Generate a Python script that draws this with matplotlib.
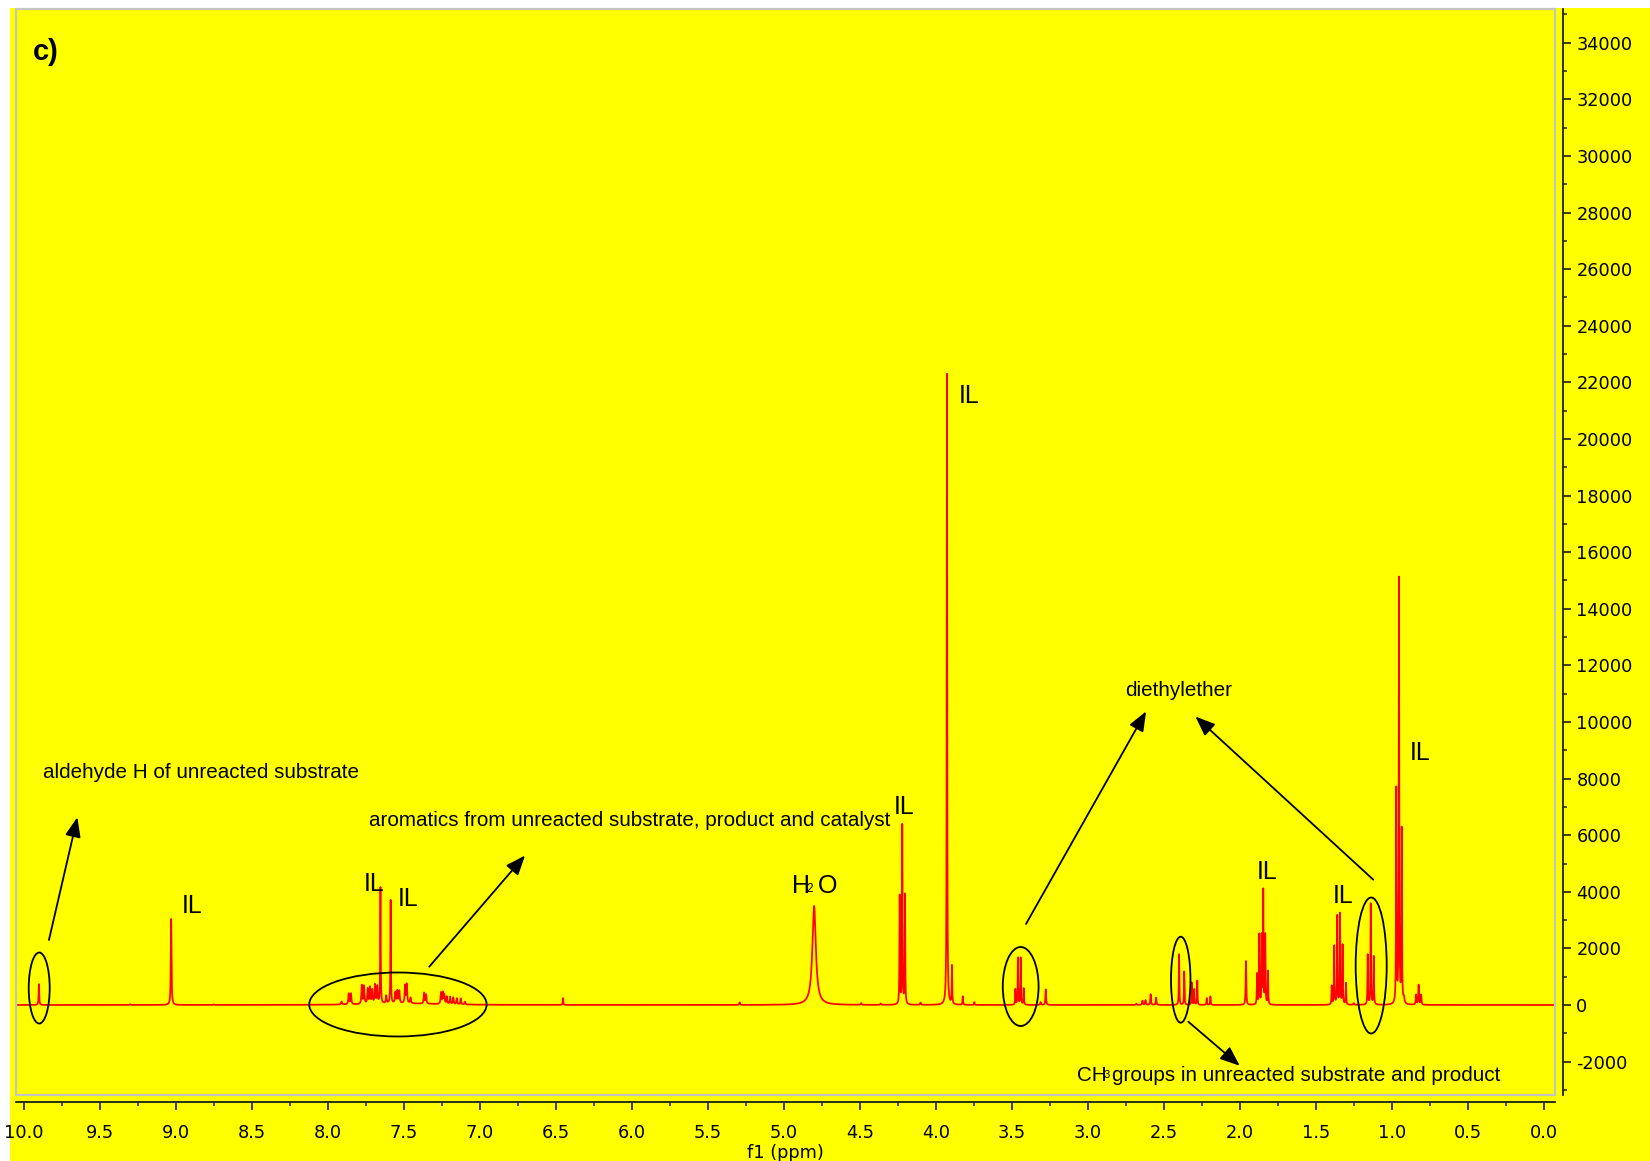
import numpy as np
import matplotlib
matplotlib.use("Agg")
import matplotlib.pyplot as plt
from matplotlib.patches import Rectangle, Ellipse
from matplotlib.ticker import MultipleLocator, FixedLocator, FuncFormatter

# ---------------- data ----------------
# peak positions (ppm), heights (intensity) and half widths (ppm)
peak_ppm = [
    9.900, 9.030, 9.300, 8.750,
    7.908, 7.862, 7.847, 7.776, 7.761, 7.737, 7.722, 7.707, 7.689, 7.674,
    7.653, 7.615, 7.586, 7.555, 7.542, 7.529, 7.491, 7.480, 7.455,
    7.366, 7.353, 7.255, 7.243, 7.233, 7.217, 7.195, 7.174, 7.151, 7.125, 7.097,
    7.500,
    6.452, 5.290,
    4.800, 4.490, 4.362,
    4.237, 4.220, 4.202, 4.100,
    3.926, 3.893, 3.822, 3.746,
    3.476, 3.459, 3.441, 3.421, 3.310, 3.276,
    2.680, 2.640, 2.620, 2.586, 2.550,
    2.399, 2.365, 2.316, 2.299, 2.279, 2.217, 2.193,
    1.959,
    1.886, 1.871, 1.855, 1.845, 1.832, 1.814,
    1.395, 1.378, 1.358, 1.340, 1.323, 1.301, 1.250,
    1.158, 1.138, 1.118,
    0.970, 0.952, 0.934, 0.920,
    0.840, 0.823, 0.807,
]
peak_height = [
    740, 3040, 30, 20,
    100, 380, 380, 660, 630, 530, 580, 480, 660, 600,
    4100, 270, 3650, 380, 430, 430, 620, 660, 200,
    380, 320, 400, 400, 320, 260, 260, 240, 210, 210, 100,
    55,
    240, 90,
    3500, 60, 50,
    3820, 6320, 3870, 80,
    22300, 1350, 300, 100,
    550, 1660, 1660, 580, 100, 550,
    50, 150, 170, 380, 260,
    1790, 1180, 790, 550, 860, 240, 300,
    1550,
    1080, 2470, 2390, 4000, 2450, 1180,
    660, 2070, 3130, 3200, 2100, 760, 60,
    1760, 3560, 1700,
    7560, 15000, 6120, 200,
    350, 700, 350,
]
peak_halfwidth = [
    0.0022, 0.0025, 0.003, 0.003,
    0.004, 0.003, 0.003, 0.003, 0.003, 0.003, 0.003, 0.003, 0.003, 0.003,
    0.0018, 0.003, 0.0018, 0.003, 0.003, 0.003, 0.003, 0.003, 0.003,
    0.003, 0.003, 0.003, 0.003, 0.003, 0.003, 0.003, 0.003, 0.003, 0.003, 0.003,
    0.25,
    0.002, 0.003,
    0.0135, 0.003, 0.003,
    0.0018, 0.0018, 0.0018, 0.003,
    0.0018, 0.0018, 0.002, 0.002,
    0.0018, 0.0018, 0.0018, 0.0018, 0.003, 0.0025,
    0.003, 0.003, 0.003, 0.0025, 0.0025,
    0.0018, 0.0018, 0.0018, 0.0018, 0.0018, 0.002, 0.002,
    0.0022,
    0.0018, 0.0018, 0.0016, 0.0016, 0.0018, 0.0018,
    0.0018, 0.0018, 0.0018, 0.0018, 0.0018, 0.0018, 0.003,
    0.0018, 0.0018, 0.0018,
    0.0018, 0.0018, 0.0018, 0.004,
    0.0025, 0.0025, 0.0025,
]

x_ticks = [10.0, 9.5, 9.0, 8.5, 8.0, 7.5, 7.0, 6.5, 6.0, 5.5, 5.0,
           4.5, 4.0, 3.5, 3.0, 2.5, 2.0, 1.5, 1.0, 0.5, 0.0]
y_ticks = [-2000, 0, 2000, 4000, 6000, 8000, 10000, 12000, 14000, 16000,
           18000, 20000, 22000, 24000, 26000, 28000, 30000, 32000, 34000]

# ---------------- spectrum line from the peak table ----------------
XMIN, XMAX = -0.0743, 10.0507
grid = np.linspace(XMAX, XMIN, 60000)
ppm = np.sort(np.concatenate([grid, np.array(peak_ppm)]))[::-1]
intensity = np.zeros_like(ppm)
for p, h, g in zip(peak_ppm, peak_height, peak_halfwidth):
    intensity += h * g * g / ((ppm - p) ** 2 + g * g)

# ---------------- figure ----------------
W, H = 1650, 1161
fig = plt.figure(figsize=(W / 100, H / 100), dpi=100)
fig.patch.set_facecolor("white")
fig.add_artist(Rectangle((10 / W, 0), 1, (H - 8) / H, transform=fig.transFigure,
                         facecolor="#FFFF00", edgecolor="none", zorder=-10))

ax = fig.add_axes([16 / W, (H - 1095) / H, (1555 - 16) / W, (1095 - 9) / H])
ax.set_facecolor("#FFFF00")
ax.plot(ppm, intensity, color="#FF0000", lw=1.25, zorder=3)

ax.set_xlim(XMAX, XMIN)
ax.set_ylim(-3180, 35194)

# gray frame around plot area
ax.add_patch(Rectangle((0, 0), 1, 1, transform=ax.transAxes, fill=False,
                       edgecolor="#C4C4C4", lw=1.6, clip_on=False, zorder=6))

for s in ("top", "left"):
    ax.spines[s].set_visible(False)
axis_col = "#1e1e1e"
ax.spines["bottom"].set_position(("outward", 5.0))
ax.spines["right"].set_position(("outward", 5.8))
for s in ("bottom", "right"):
    ax.spines[s].set_color(axis_col)
    ax.spines[s].set_linewidth(1.3)

ax.yaxis.tick_right()
ax.xaxis.set_major_locator(FixedLocator(x_ticks))
ax.xaxis.set_minor_locator(MultipleLocator(0.25))
ax.xaxis.set_major_formatter(FuncFormatter(lambda v, p: f"{v:.1f}"))
ax.yaxis.set_major_locator(FixedLocator(y_ticks))
ax.yaxis.set_minor_locator(MultipleLocator(1000))
ax.yaxis.set_major_formatter(FuncFormatter(lambda v, p: f"{int(round(v))}"))

ax.tick_params(which="major", length=5.5, width=1.2, color=axis_col,
               labelsize=12.8, labelcolor="black")
ax.tick_params(which="minor", length=3.0, width=1.1, color=axis_col)
ax.tick_params(axis="x", which="major", pad=10.5)
ax.tick_params(axis="y", which="major", pad=4.0)
for lab in ax.get_xticklabels() + ax.get_yticklabels():
    lab.set_family("DejaVu Sans")

ax.set_xlabel("f1 (ppm)", fontsize=12.8, family="DejaVu Sans", labelpad=1)

# ---------------- annotations ----------------
AF = "Liberation Sans"
small = 14.9
big = 18


def txt(x, y, s, size, **kw):
    ax.text(x, y, s, fontsize=size, family=AF, ha="left", va="baseline",
            color="black", zorder=7, **kw)


def arrow(tail, head):
    ax.annotate("", xy=head, xytext=tail,
                arrowprops=dict(arrowstyle="-|>,head_length=0.8,head_width=0.32",
                                mutation_scale=15, lw=1.3, color="black",
                                shrinkA=0, shrinkB=0), zorder=7)


def ell(cx, cy, w, h):
    ax.add_patch(Ellipse((cx, cy), w, h, fill=False, edgecolor="black",
                         lw=1.3, zorder=7))


ax.text(0.011, 0.96, "c)", transform=ax.transAxes, fontsize=21, family=AF,
        fontweight="bold", ha="left", va="center")

txt(9.873, 8021, "aldehyde H of unreacted substrate", small)
arrow((9.834, 2297), (9.647, 6633))
ell(9.898, 600, 0.138, 2509)

txt(8.961, 3240, "IL", big)

ell(7.538, 18, 1.167, 2261)
txt(7.766, 4039, "IL", big)
txt(7.536, 3498, "IL", big)
arrow((7.332, 1353), (6.702, 5283))
txt(7.726, 6325, "aromatics from unreacted substrate, product and catalyst", small)

txt(4.943, 3947, "H", big)
txt(4.849, 4003, "2", 8.5)
txt(4.772, 3947, "O", big)

txt(4.279, 6753, "IL", big)
txt(3.847, 21272, "IL", big)

ell(3.441, 654, 0.2355, 2791)
txt(2.755, 10918, "diethylether", small)
arrow((3.406, 2862), (2.616, 10375))
arrow((1.121, 4428), (2.291, 10191))
ell(1.135, 1396, 0.204, 4806)

ell(2.388, 894, 0.128, 3039)
arrow((2.338, -590), (2.0, -2145))
txt(3.072, -2686, "CH", small)
txt(2.893, -2580, "3", 8)
txt(2.842, -2686, "groups in unreacted substrate and product", small)

txt(1.888, 4452, "IL", big)
txt(1.388, 3594, "IL", big)
txt(0.880, 8657, "IL", big)

fig.savefig("out.png", dpi=100, facecolor=fig.get_facecolor())
